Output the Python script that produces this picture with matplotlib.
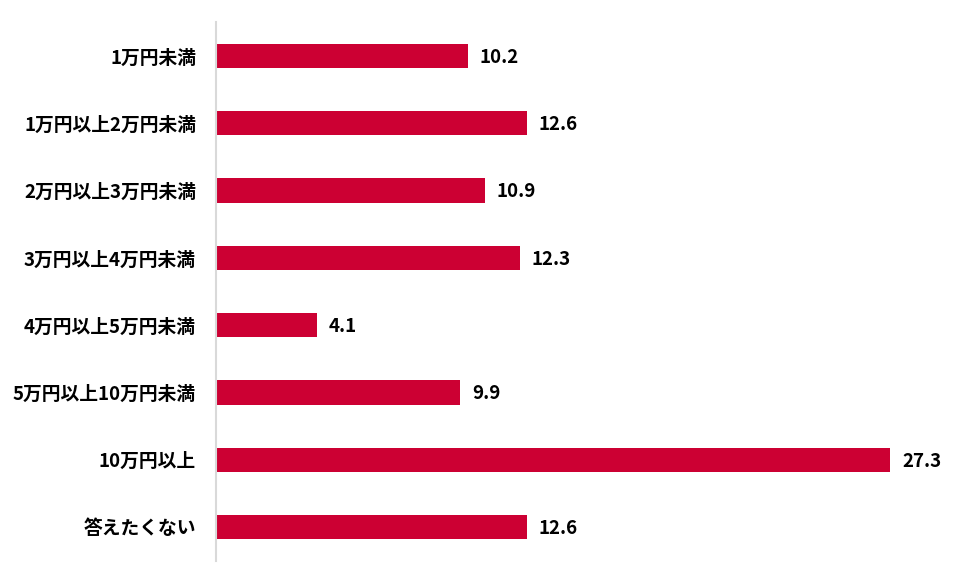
import matplotlib.pyplot as plt

plt.rcParams['font.family'] = ['Noto Sans CJK JP', 'DejaVu Sans']

# Data
categories = ["1万円未満", "1万円以上2万円未満", "2万円以上3万円未満", "3万円以上4万円未満",
              "4万円以上5万円未満", "5万円以上10万円未満", "10万円以上", "答えたくない"]
values = [10.2, 12.6, 10.9, 12.3, 4.1, 9.9, 27.3, 12.6]

bar_color = "#CC0033"

fig = plt.figure(figsize=(9.79, 5.84), dpi=100)
ax = fig.add_axes([215.5 / 979, 1 - 560.6 / 584, (30 * 24.72) / 979, (560.6 - 22.4) / 584])

y = list(range(len(categories)))
ax.barh(y, values, height=0.36, color=bar_color)

# value labels to the right of the bars
for yi, v in zip(y, values):
    ax.annotate(f"{v:.1f}", xy=(v, yi), xytext=(8.5, -1), textcoords="offset points",
                va="center", ha="left", fontsize=13.5, fontweight="bold", color="black")

ax.set_xlim(0, 30)
ax.set_ylim(len(categories) - 0.5, -0.5)
ax.set_yticks(y)
ax.set_yticklabels(categories, fontsize=13.5, fontweight="bold")
ax.tick_params(axis="y", length=0, pad=14)
ax.set_xticks([])

for side in ["top", "right", "bottom"]:
    ax.spines[side].set_visible(False)
ax.spines["left"].set_color("#D9D9D9")
ax.spines["left"].set_linewidth(1.5)

fig.savefig("out.png", dpi=100)
